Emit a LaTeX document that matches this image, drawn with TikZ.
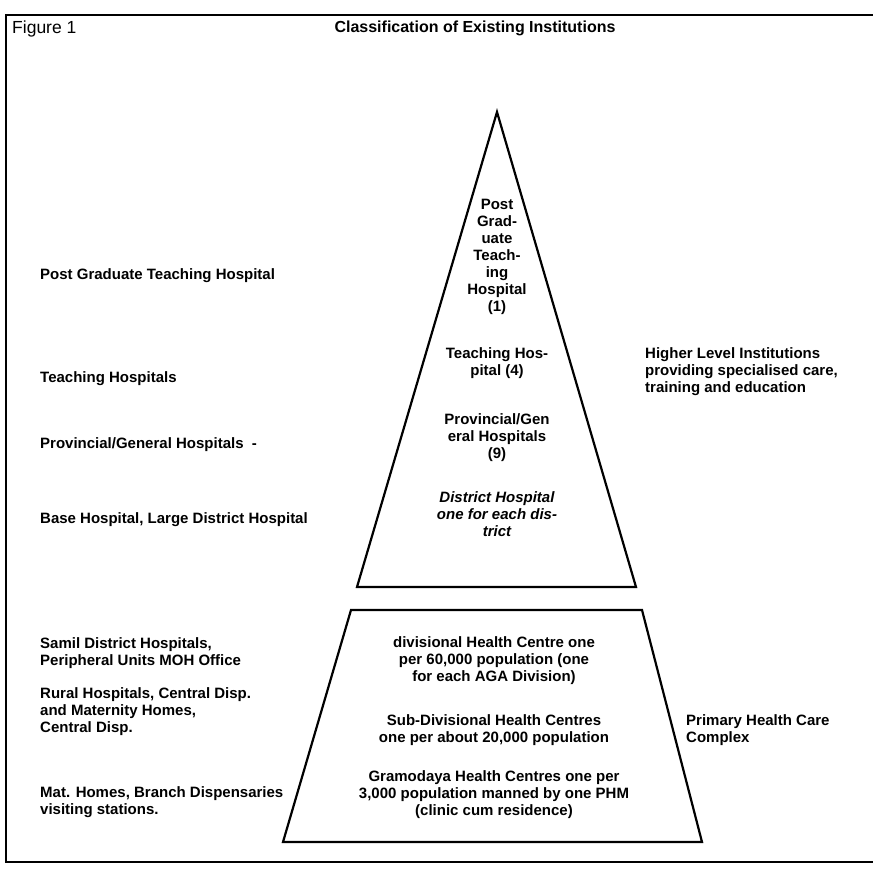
\documentclass[tikz,border=0pt]{standalone}
\usepackage{fontspec}
\setmainfont{Liberation Sans}
\usetikzlibrary{positioning}

\begin{document}
\begin{tikzpicture}[x=1pt, y=-1pt,
		sidetext/.style={anchor=north west, inner sep=0pt, align=left, font=\bfseries\fontsize{15}{17}\selectfont},
		pyrtext/.style={anchor=north, inner sep=0pt, align=center, font=\bfseries\fontsize{15}{17}\selectfont},
		outline/.style={line width=2.2pt, line join=miter}]
			\useasboundingbox (0,0) rectangle (873,892);
			% frame
			\draw [line width=2.6pt] (873,15) -- (6,15) -- (6,862) -- (873,862);
			\node[anchor=north west, inner sep=0pt, font=\fontsize{17.5}{19}\selectfont] (fig) at (12,21) {Figure 1};
			\node[anchor=north, inner sep=0pt, font=\bfseries\fontsize{16}{17}\selectfont] (title) at (475,21) {Classification of Existing Institutions};
			% pyramid
			\coordinate (apex) at (497,112);
			\coordinate (tl) at (357,587);
			\coordinate (tr) at (636,587);
			\coordinate (ptl) at (351,610);
			\coordinate (ptr) at (642,610);
			\coordinate (pbr) at (702,842);
			\coordinate (pbl) at (283,842);
			\draw [outline] (apex) -- (tr) -- (tl) -- cycle;
			\draw [outline] (ptl) -- (ptr) -- (pbr) -- (pbl) -- cycle;
			% texts inside
			\node[pyrtext] (tpg) at (497,198.5) {Post\\Grad-\\uate\\Teach-\\ing\\Hospital\\(1)};
			\node[pyrtext] (tth) at (497,347.5) {Teaching Hos-\\pital (4)};
			\node[pyrtext] (tpr) at (497,413.5) {Provincial/Gen\\eral Hospitals\\(9)};
			\node[pyrtext, font=\bfseries\itshape\fontsize{15}{17}\selectfont] (tdh) at (497,491.5) {District Hospital\\one for each dis-\\trict};
			\node[pyrtext] (tdiv) at (494,636.5) {divisional Health Centre one\\per 60,000 population (one\\for each AGA Division)};
			\node[pyrtext] (tsub) at (494,714.5) {Sub-Divisional Health Centres\\one per about 20,000 population};
			\node[pyrtext] (tgra) at (494,770.5) {Gramodaya Health Centres one per\\3,000 population manned by one PHM\\(clinic cum residence)};
			% left side
			\node[sidetext] (lpg) at (40,268.5) {Post Graduate Teaching Hospital};
			\node[sidetext] (lth) at (40,371.5) {Teaching Hospitals};
			\node[sidetext] (lpr) at (40,437.5) {Provincial/General Hospitals~~-};
			\node[sidetext] (lba) at (40,512.5) {Base Hospital, Large District Hospital};
			\node[sidetext] (lsd) at (40,637.5) {Samil District Hospitals,\\Peripheral Units MOH Office};
			\node[sidetext] (lru) at (40,687.5) {Rural Hospitals, Central Disp.\\and Maternity Homes,\\Central Disp.};
			\node[sidetext] (lma) at (40,786.5) {Mat. Homes, Branch Dispensaries\\visiting stations.};
			% right side
			\node[sidetext] (rhi) at (645,347.5) {Higher Level Institutions\\providing specialised care,\\training and education};
			\node[sidetext] (rph) at (686,714.5) {Primary Health Care\\Complex};
		\end{tikzpicture}
\end{document}
